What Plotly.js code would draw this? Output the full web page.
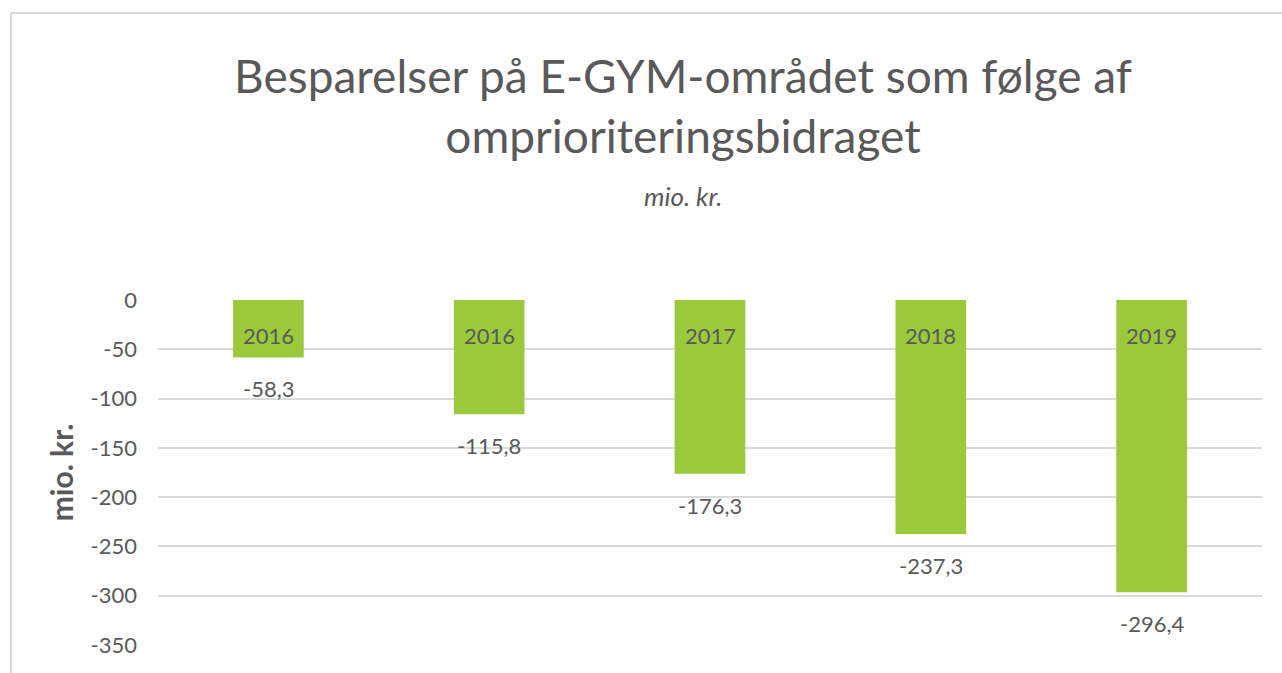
<!DOCTYPE html>
<html>
<head>
<meta charset="utf-8">
<script src="https://cdn.plot.ly/plotly-3.0.1.min.js"></script>
<style>
  html, body { margin: 0; padding: 0; background: #fff; }
  #wrap { position: absolute; left: 0; top: 0; width: 1282px; height: 673px; }
  #frame { position: absolute; left: 10px; top: 12px; width: 1280px; height: 670px;
           border-left: 2px solid #d9d9d9; border-top: 2px solid #d9d9d9; pointer-events: none; }
  #chart { position: absolute; left: 0; top: 0; width: 1282px; height: 673px; }
</style>
</head>
<body>
<div id="wrap">
  <div id="chart"></div>
  <div id="frame"></div>
</div>
<script>
// Data
const yearLabels = ["2016", "2016", "2017", "2018", "2019"];
const values = [-58.3, -115.8, -176.3, -237.3, -296.4];
const tickValsY = [0, -50, -100, -150, -200, -250, -300, -350];
const titleText = "Besparelser på E-GYM-området som følge af<br>omprioriteringsbidraget";
const subtitleText = "mio. kr.";
const yAxisTitle = "mio. kr.";

const idx = yearLabels.map((_, i) => i);
const FONT = "Lato, 'Open Sans', sans-serif";
const GREY = "#595959";

const trace = {
  type: "bar",
  x: idx,
  y: values,
  marker: { color: "#9ACA3C" },
  hoverinfo: "none"
};

const annotations = [];
idx.forEach((i) => {
  annotations.push({
    x: i, y: 0, xref: "x", yref: "y",
    text: yearLabels[i], showarrow: false,
    yanchor: "top", yshift: -20,
    font: { family: FONT, size: 22, color: GREY }
  });
  annotations.push({
    x: i, y: values[i], xref: "x", yref: "y",
    text: values[i].toFixed(1).replace(".", ","), showarrow: false,
    yanchor: "top", yshift: -16,
    font: { family: FONT, size: 22, color: GREY }
  });
});
annotations.push({
  x: (683 - 158) / 1104, y: (645 - 196) / 345, xref: "paper", yref: "paper",
  text: "<i>" + subtitleText + "</i>", showarrow: false,
  xanchor: "center", yanchor: "middle",
  font: { family: FONT, size: 26, color: GREY }
});

const layout = {
  width: 1282, height: 673,
  margin: { l: 158, r: 20, t: 300, b: 28 },
  paper_bgcolor: "#fff", plot_bgcolor: "#fff",
  separators: ",.",
  showlegend: false,
  bargap: 0.68,
  title: {
    text: titleText,
    x: 683 / 1282, xanchor: "center",
    y: 1 - 93 / 673, yanchor: "top",
    yref: "container",
    font: { family: FONT, size: 46, color: GREY }
  },
  xaxis: {
    range: [-0.5, 4.5],
    showticklabels: false, showgrid: false, zeroline: false, showline: false, ticks: ""
  },
  yaxis: {
    range: [-350, 0],
    tickvals: tickValsY,
    ticktext: tickValsY.map(String),
    showgrid: true, gridcolor: "#d9d9d9", gridwidth: 2,
    zeroline: false, showline: false, ticks: "",
    ticklabelstandoff: 20,
    tickfont: { family: FONT, size: 22, color: GREY },
    title: { text: "<b>" + yAxisTitle + "</b>", standoff: 8, font: { family: FONT, size: 30, color: GREY } }
  },
  annotations: annotations
};

Plotly.newPlot("chart", [trace], layout, { staticPlot: true, displayModeBar: false });
</script>
</body>
</html>
